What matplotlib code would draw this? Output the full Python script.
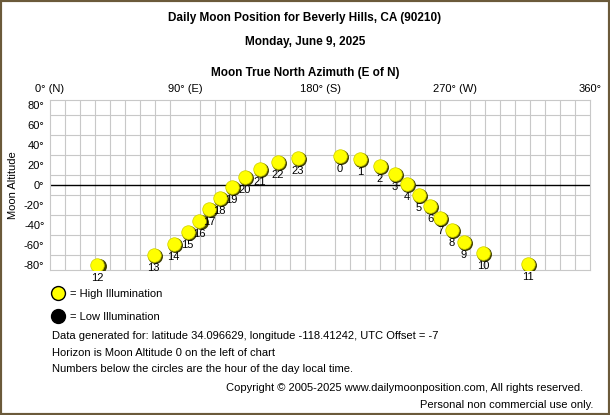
import matplotlib
matplotlib.use("Agg")
import matplotlib.pyplot as plt
from matplotlib.patches import Rectangle

plt.rcParams["font.family"] = "Liberation Sans"

hours = [12, 13, 14, 15, 16, 17, 18, 19, 20, 21, 22, 23, 0, 1, 2, 3, 4, 5, 6, 7, 8, 9, 10, 11]
azimuth = [31.6, 69.2, 82.5, 91.8, 99.6, 106.1, 113.1, 121.1, 129.7, 139.8, 151.7, 165.0,
           193.0, 206.5, 219.7, 229.8, 238.1, 246.1, 253.4, 260.1, 267.7, 275.7, 288.7, 318.5]
altitude = [-80, -70, -59.3, -47.3, -35.7, -24.3, -13.3, -2.0, 7.7, 15.7, 23.3, 26.7,
            29.3, 26.0, 19.0, 10.7, 0.7, -10.0, -21.0, -33.0, -45.0, -57.3, -67.7, -79.0]
xtick_vals = [0, 90, 180, 270, 360]
xtick_labels = ["0° (N)", "90° (E)", "180° (S)", "270° (W)", "360°"]
ytick_vals = [80, 60, 40, 20, 0, -20, -40, -60, -80]

W, H = 610, 415
fig = plt.figure(figsize=(W / 100, H / 100), dpi=100, facecolor="white")
fig.add_artist(Rectangle((0, 0), 1, 1, transform=fig.transFigure, fill=False,
                         edgecolor="#6b5a3a", linewidth=3))

ax = fig.add_axes([50 / W, 1 - 270 / H, 540 / W, 170 / H])
ax.set_xlim(0, 360)
ax.set_ylim(-85, 85)
ax.set_xticks(range(0, 361, 10), minor=True)
ax.set_yticks(range(-80, 81, 10), minor=True)
ax.grid(which="minor", color="#c8c8c8", linewidth=0.8)
ax.set_axisbelow(True)
ax.set_xticks(xtick_vals)
ax.set_xticklabels(xtick_labels, fontsize=8)
ax.xaxis.tick_top()
ax.set_yticks(ytick_vals)
ax.set_yticklabels([f"{v}°" for v in ytick_vals], fontsize=8)
ax.tick_params(which="both", length=0, pad=4)
for s in ax.spines.values():
    s.set_color("#c8c8c8")
ax.axhline(0, color="black", linewidth=1)
ax.set_ylabel("Moon Altitude", fontsize=8, labelpad=4)

ax.scatter([a + 0.8 for a in azimuth], [h - 1.0 for h in altitude], s=95, color="#404000", zorder=3)
ax.scatter(azimuth, altitude, s=95, color="#ffff00", edgecolors="#d0d000", linewidths=0.5, zorder=4)
for a, h, hr in zip(azimuth, altitude, hours):
    ax.annotate(str(hr), (a, h), xytext=(0, -9.5), textcoords="offset points",
                ha="center", va="center", fontsize=8, zorder=5)

def ftext(x, y, s, **kw):
    fig.text(x / W, 1 - y / H, s, **kw)

ftext(305, 18, "Daily Moon Position for Beverly Hills, CA (90210)", ha="center", va="center",
      fontsize=8.5, fontweight="bold")
ftext(305, 42, "Monday, June 9, 2025", ha="center", va="center", fontsize=8.5, fontweight="bold")
ftext(305, 73, "Moon True North Azimuth (E of N)", ha="center", va="center", fontsize=8.5,
      fontweight="bold")

fig.add_artist(plt.Line2D([58 / W], [1 - 293 / H], marker="o", markersize=10,
                          markerfacecolor="#ffff00", markeredgecolor="black", transform=fig.transFigure))
fig.add_artist(plt.Line2D([58 / W], [1 - 316 / H], marker="o", markersize=10,
                          markerfacecolor="black", markeredgecolor="black", transform=fig.transFigure))
ftext(70, 294, "= High Illumination", va="center", fontsize=8)
ftext(70, 317, "= Low Illumination", va="center", fontsize=8)
ftext(52, 336, "Data generated for: latitude 34.096629, longitude -118.41242, UTC Offset = -7",
      va="center", fontsize=8)
ftext(52, 353, "Horizon is Moon Altitude 0 on the left of chart", va="center", fontsize=8)
ftext(52, 369, "Numbers below the circles are the hour of the day local time.", va="center", fontsize=8)
ftext(583, 388, "Copyright © 2005-2025 www.dailymoonposition.com, All rights reserved.",
      ha="right", va="center", fontsize=8)
ftext(593, 405, "Personal non commercial use only.", ha="right", va="center", fontsize=8)

fig.savefig("out.png", dpi=100, facecolor="white")
